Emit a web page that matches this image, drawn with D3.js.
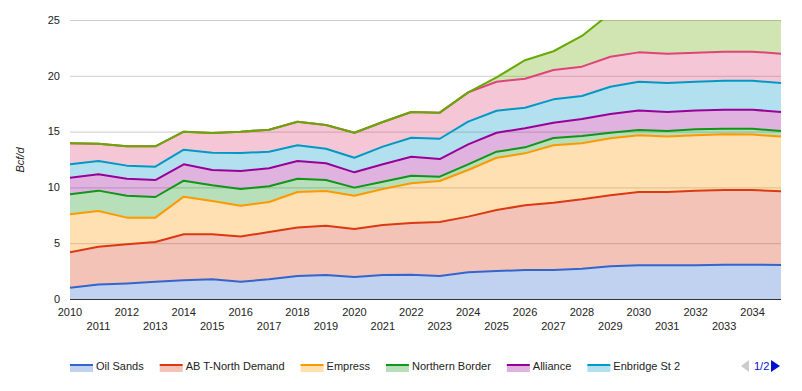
<!DOCTYPE html>
<html>
<head>
<meta charset="utf-8">
<script src="https://cdn.jsdelivr.net/npm/d3@7"></script>
<style>
  html, body { margin: 0; padding: 0; background: #fff; }
  svg { display: block; font-family: "Liberation Sans", Arial, sans-serif; }
</style>
</head>
<body>
<div id="chart"></div>
<script>
// --- data (Bcf/d, stacked) ---
const years = d3.range(2010, 2036);
const seriesNames = ["Oil Sands", "AB T-North Demand", "Empress", "Northern Border",
                     "Alliance", "Enbridge St 2", "Westcoast", "Surplus Supply"];
const oilSands   = [1.0, 1.3, 1.4, 1.55, 1.67, 1.76, 1.55, 1.76, 2.06, 2.15, 1.97, 2.15, 2.18, 2.06, 2.39, 2.5, 2.6, 2.6, 2.72, 2.93, 3.02, 3.02, 3.02, 3.08, 3.08, 3.05];
const abTNorth   = [3.18, 3.39, 3.5, 3.55, 4.13, 4.04, 4.05, 4.24, 4.34, 4.42, 4.3, 4.48, 4.63, 4.84, 4.99, 5.47, 5.8, 6.03, 6.21, 6.36, 6.57, 6.57, 6.68, 6.69, 6.69, 6.6];
const empress    = [3.41, 3.2, 2.39, 2.19, 3.37, 2.98, 2.76, 2.69, 3.19, 3.11, 2.99, 3.23, 3.56, 3.67, 4.18, 4.69, 4.65, 5.14, 5.02, 5.11, 5.08, 4.96, 4.97, 4.99, 4.96, 4.9];
const northBorder= [1.79, 1.82, 1.97, 1.85, 1.43, 1.41, 1.5, 1.41, 1.19, 0.98, 0.72, 0.65, 0.68, 0.39, 0.51, 0.54, 0.54, 0.66, 0.65, 0.5, 0.47, 0.5, 0.53, 0.5, 0.53, 0.5];
const alliance   = [1.49, 1.46, 1.52, 1.52, 1.47, 1.37, 1.61, 1.61, 1.59, 1.5, 1.37, 1.56, 1.7, 1.58, 1.79, 1.7, 1.71, 1.37, 1.53, 1.68, 1.76, 1.71, 1.7, 1.7, 1.7, 1.71];
const enbridge   = [1.2, 1.2, 1.17, 1.2, 1.31, 1.55, 1.61, 1.49, 1.4, 1.31, 1.31, 1.58, 1.7, 1.82, 2.03, 1.97, 1.84, 2.09, 2.06, 2.44, 2.57, 2.59, 2.57, 2.6, 2.6, 2.59];
const westcoast  = [1.88, 1.55, 1.73, 1.82, 1.61, 1.76, 1.91, 1.97, 2.12, 2.12, 2.24, 2.21, 2.31, 2.34, 2.63, 2.6, 2.6, 2.63, 2.63, 2.69, 2.63, 2.63, 2.6, 2.6, 2.6, 2.63];
const surplus    = [0, 0, 0, 0, 0, 0, 0, 0, 0, 0, 0, 0, 0, 0, 0, 0.39, 1.66, 1.68, 2.75, 3.89, 4.9, 5.52, 5.93, 6.34, 6.84, 7.02];
const seriesValues = [oilSands, abTNorth, empress, northBorder, alliance, enbridge, westcoast, surplus];
const colors = ["#3366cc", "#dc3912", "#ff9900", "#109618", "#990099", "#0099c6", "#dd4477", "#66aa00"];
const yTicks = [0, 5, 10, 15, 20, 25];
const legendShown = 6; // page 1 of 2

// --- layout ---
const W = 802, H = 391;
const plot = { left: 70, right: 781, top: 20, bottom: 299 };

const svg = d3.select('#chart').append('svg').attr('width', W).attr('height', H);

const x = d3.scaleLinear().domain([2010, 2035]).range([plot.left, plot.right]);
const y = d3.scaleLinear().domain([0, 25]).range([plot.bottom, plot.top]);

// table for stack
const table = years.map((yr, i) => {
  const row = { year: yr };
  seriesNames.forEach((n, k) => row[n] = seriesValues[k][i]);
  return row;
});
const stacked = d3.stack().keys(seriesNames)(table);

// --- gridlines ---
svg.append('g')
  .selectAll('line')
  .data(yTicks.filter(d => d > 0))
  .join('line')
  .attr('x1', plot.left).attr('x2', plot.right)
  .attr('y1', d => y(d) + 0.5).attr('y2', d => y(d) + 0.5)
  .attr('stroke', '#cccccc').attr('stroke-width', 1);

svg.append('clipPath').attr('id', 'plotClip')
  .append('rect')
  .attr('x', plot.left).attr('y', plot.top)
  .attr('width', plot.right - plot.left).attr('height', plot.bottom - plot.top);

const area = d3.area()
  .x(d => x(d.data.year))
  .y0(d => y(d[0]))
  .y1(d => y(d[1]));
const line = d3.line()
  .x(d => x(d.data.year))
  .y(d => y(d[1]));

const g = svg.append('g').attr('clip-path', 'url(#plotClip)');
g.selectAll('path.area')
  .data(stacked)
  .join('path')
  .attr('class', 'area')
  .attr('d', area)
  .attr('fill', (d, i) => colors[i])
  .attr('fill-opacity', 0.3);
g.selectAll('path.line')
  .data(stacked)
  .join('path')
  .attr('class', 'line')
  .attr('d', line)
  .attr('fill', 'none')
  .attr('stroke', (d, i) => colors[i])
  .attr('stroke-width', 2)
  .attr('stroke-linejoin', 'round');

// --- baseline ---
svg.append('line')
  .attr('x1', plot.left).attr('x2', plot.right)
  .attr('y1', y(0) + 0.5).attr('y2', y(0) + 0.5)
  .attr('stroke', '#333').attr('stroke-width', 1.2);

// --- y axis labels ---
svg.append('g')
  .selectAll('text')
  .data(yTicks)
  .join('text')
  .attr('x', 60).attr('y', d => y(d))
  .attr('dy', '0.35em')
  .attr('text-anchor', 'end')
  .attr('font-size', 11)
  .attr('fill', '#222')
  .text(d => d);

svg.append('text')
  .attr('transform', 'translate(24,160) rotate(-90)')
  .attr('text-anchor', 'middle')
  .attr('font-size', 11)
  .attr('font-style', 'italic')
  .attr('fill', '#222')
  .text('Bcf/d');

// --- x axis labels (two staggered rows) ---
svg.append('g')
  .selectAll('text')
  .data(years.filter(d => d < 2035))
  .join('text')
  .attr('x', d => x(d))
  .attr('y', d => (d % 2 === 0 ? 312 : 326))
  .attr('dy', '0.35em')
  .attr('text-anchor', 'middle')
  .attr('font-size', 11)
  .attr('fill', '#222')
  .text(d => d);

// --- legend ---
const legend = svg.append('g').attr('transform', 'translate(70,366)');
let lx = 0;
seriesNames.slice(0, legendShown).forEach((name, i) => {
  const item = legend.append('g').attr('transform', `translate(${lx},0)`);
  item.append('rect')
    .attr('x', 0).attr('y', -1).attr('width', 23).attr('height', 7)
    .attr('fill', colors[i]).attr('fill-opacity', 0.3);
  item.append('line')
    .attr('x1', 0).attr('x2', 23).attr('y1', -1).attr('y2', -1)
    .attr('stroke', colors[i]).attr('stroke-width', 2);
  const t = item.append('text')
    .attr('x', 26).attr('y', 0).attr('dy', '0.35em')
    .attr('font-size', 11).attr('fill', '#222')
    .text(name);
  lx += 26 + t.node().getComputedTextLength() + 16;
});

// pager
const pager = svg.append('g').attr('transform', 'translate(0,366)');
pager.append('path').attr('d', 'M741,0 L749,-6 L749,6 Z').attr('fill', '#cccccc');
pager.append('text').attr('x', 754).attr('y', 0).attr('dy', '0.35em')
  .attr('font-size', 11).attr('fill', '#0011cc').text('1/2');
pager.append('path').attr('d', 'M771,-6 L780,0 L771,6 Z').attr('fill', '#0011cc');
</script>
</body>
</html>
